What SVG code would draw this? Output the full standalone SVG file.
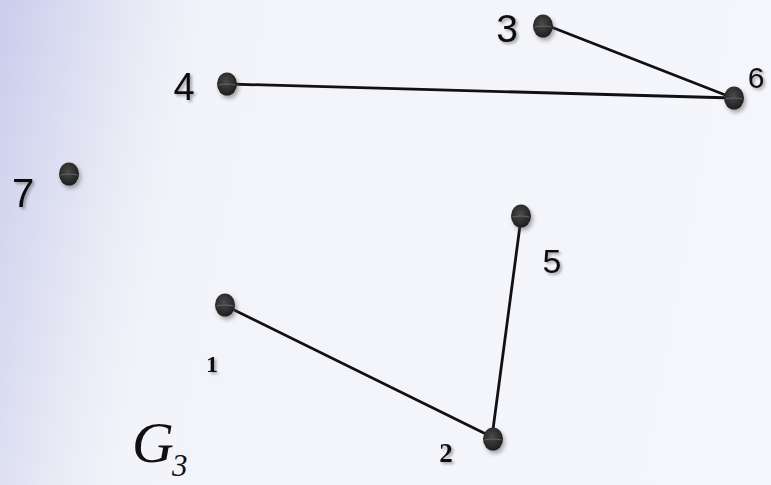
<svg xmlns="http://www.w3.org/2000/svg" width="771" height="485" viewBox="0 0 771 485">
  <defs>
    <linearGradient id="bg" x1="0" y1="0" x2="1" y2="0.12" gradientUnits="objectBoundingBox">
      <stop offset="0" stop-color="#cacdec"/>
      <stop offset="0.08" stop-color="#d7daf0"/>
      <stop offset="0.17" stop-color="#e6e8f5"/>
      <stop offset="0.27" stop-color="#f3f4fa"/>
      <stop offset="1" stop-color="#f5f6fb"/>
    </linearGradient>
    <radialGradient id="dot" cx="0.45" cy="0.4" r="0.6">
      <stop offset="0" stop-color="#4a4a4a"/>
      <stop offset="1" stop-color="#1e1e1e"/>
    </radialGradient>
    <filter id="blur" x="-50%" y="-50%" width="200%" height="200%">
      <feGaussianBlur stdDeviation="2"/>
    </filter>
    <filter id="tshadow" x="-30%" y="-30%" width="160%" height="160%">
      <feGaussianBlur in="SourceAlpha" stdDeviation="1.5"/>
      <feOffset dx="2" dy="2" result="s"/>
      <feComponentTransfer><feFuncA type="linear" slope="0.35"/></feComponentTransfer>
      <feMerge><feMergeNode/><feMergeNode in="SourceGraphic"/></feMerge>
    </filter>
    <g id="node">
      <ellipse cx="2" cy="3" rx="10" ry="11.5" fill="#555" opacity="0.5" filter="url(#blur)"/>
      <ellipse cx="0" cy="0" rx="10" ry="11.5" fill="url(#dot)"/>
      <path d="M -8.5 1 Q 0 -1 8.5 1" stroke="#777" stroke-width="1.2" fill="none" opacity="0.7"/>
    </g>
  </defs>
  <style>
    .edge { stroke: #111; stroke-width: 2.8; fill: none; stroke-linecap: round; }
    .lbl { font-family: "Liberation Sans", Arial, sans-serif; fill: #111; text-anchor: middle; filter: url(#tshadow); }
    .lbls { font-family: "Liberation Serif", "Times New Roman", serif; font-weight: bold; fill: #111; text-anchor: middle; filter: url(#tshadow); }
    .title { font-family: "Liberation Serif", "Times New Roman", serif; font-style: italic; fill: #111; }
  </style>
  <rect x="0" y="0" width="771" height="485" fill="url(#bg)"/>

  <g id="connectors">
    <line class="edge" x1="546" y1="25" x2="733" y2="98"/>
    <line class="edge" x1="228" y1="84" x2="733" y2="98"/>
    <line class="edge" x1="226" y1="306" x2="492" y2="437"/>
    <line class="edge" x1="521" y1="218" x2="492" y2="437"/>
  </g>

  <g id="n1"><use href="#node" x="225" y="305"/><text class="lbls" x="212" y="372" font-size="24">1</text></g>
  <g id="n2"><use href="#node" x="493" y="439"/><text class="lbls" x="446" y="462" font-size="27">2</text></g>
  <g id="n3"><use href="#node" x="543" y="26"/><text class="lbl" x="507" y="42" font-size="39">3</text></g>
  <g id="n4"><use href="#node" x="227" y="84"/><text class="lbl" x="184" y="100" font-size="38">4</text></g>
  <g id="n5"><use href="#node" x="521" y="216"/><text class="lbl" x="552" y="273" font-size="34">5</text></g>
  <g id="n6"><use href="#node" x="734" y="98"/><text class="lbl" x="756" y="88" font-size="30">6</text></g>
  <g id="n7"><use href="#node" x="69" y="174"/><text class="lbl" x="23" y="207" font-size="40">7</text></g>

  <g id="title">
    <text class="title" x="132" y="462" font-size="58">G</text>
    <text class="title" x="172" y="476" font-size="31">3</text>
  </g>
</svg>
